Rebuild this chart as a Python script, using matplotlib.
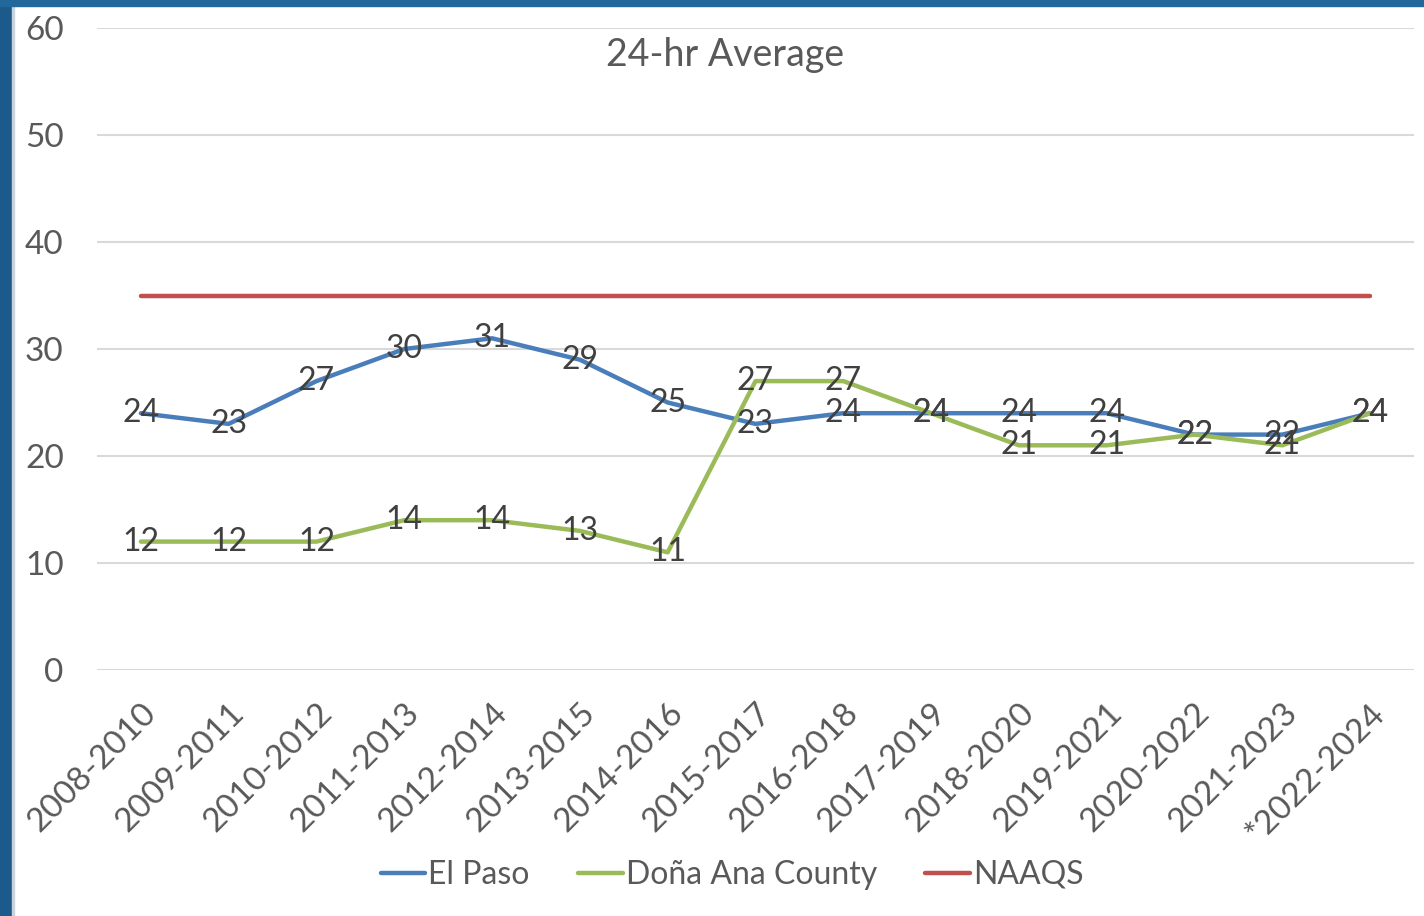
import matplotlib.pyplot as plt
from matplotlib.patches import Rectangle

periods = ["2008-2010", "2009-2011", "2010-2012", "2011-2013", "2012-2014",
           "2013-2015", "2014-2016", "2015-2017", "2016-2018", "2017-2019",
           "2018-2020", "2019-2021", "2020-2022", "2021-2023", "*2022-2024"]
el_paso = [24, 23, 27, 30, 31, 29, 25, 23, 24, 24, 24, 24, 22, 22, 24]
dona_ana = [12, 12, 12, 14, 14, 13, 11, 27, 27, 24, 21, 21, 22, 21, 24]
naaqs = [35] * len(periods)

plt.rcParams['font.family'] = ['Lato', 'DejaVu Sans']

fig = plt.figure(figsize=(14.24, 9.16), dpi=100)
fig.patch.set_facecolor('white')

# blue slide frame on left and top
fig.patches.append(Rectangle((0, 0), 12 / 1424, 1, transform=fig.transFigure,
                             color='#1d5a8c', zorder=0))
fig.patches.append(Rectangle((12 / 1424, 0), 2 / 1424, 1, transform=fig.transFigure,
                             color='#c8d3dc', zorder=0))
fig.patches.append(Rectangle((0, 1 - 6 / 916), 1, 6 / 916, transform=fig.transFigure,
                             color='#22689a', zorder=0))

ax = fig.add_axes([97 / 1424, 246 / 916, (1414 - 97) / 1424, 642 / 916])
x = list(range(len(periods)))

ax.plot(x, el_paso, color='#4a7ebb', lw=3.2, solid_capstyle='round', zorder=3, label='El Paso')
ax.plot(x, dona_ana, color='#9bbb59', lw=3.2, solid_capstyle='round', zorder=3, label='Doña Ana County')
ax.plot(x, naaqs, color='#c0504d', lw=3.2, solid_capstyle='round', zorder=3, label='NAAQS')

for xi, v in zip(x, el_paso):
    ax.text(xi, v, str(v), ha='center', va='center', fontsize=23, color='#404040', zorder=5)
for xi, v in zip(x, dona_ana):
    ax.text(xi, v, str(v), ha='center', va='center', fontsize=23, color='#404040', zorder=5)

ax.set_xlim(-0.5, len(periods) - 0.5)
ax.set_ylim(0, 60)
ax.set_yticks(range(0, 61, 10))
ax.yaxis.grid(True, color='#d9d9d9', lw=1.5)
ax.set_axisbelow(True)
for s in ax.spines.values():
    s.set_visible(False)
ax.tick_params(length=0, labelsize=24, labelcolor='#595959')
ax.tick_params(axis='y', pad=24)
ax.set_xticks(x)
ax.set_xticklabels(periods, rotation=45, ha='right', rotation_mode='anchor')
ax.tick_params(axis='x', pad=20)

ax.text(628 / 1317, 0.958, '24-hr Average', transform=ax.transAxes, ha='center', va='center',
        fontsize=27, color='#595959')

leg = fig.legend(loc='center', bbox_to_anchor=(732 / 1424, 1 - 875 / 916), ncol=3,
                 frameon=False, fontsize=23, handlelength=1.4, handletextpad=0.1,
                 columnspacing=1.5, labelcolor='#595959')

fig.savefig('out.png', dpi=100)
